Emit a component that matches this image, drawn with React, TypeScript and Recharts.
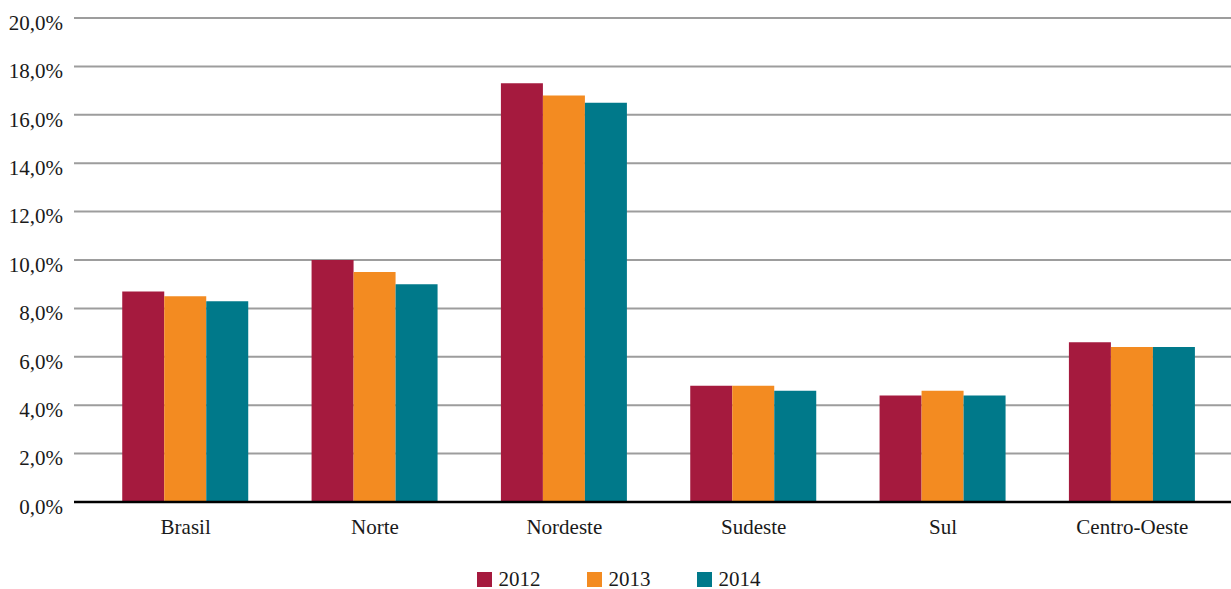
import React from "react";
import { BarChart, Bar, XAxis, YAxis, CartesianGrid, Legend } from "recharts";

// Regions on the category axis
const regions = ["Brasil", "Norte", "Nordeste", "Sudeste", "Sul", "Centro-Oeste"];

// Rates (%) per year
const values2012 = [8.7, 10.0, 17.3, 4.8, 4.4, 6.6];
const values2013 = [8.5, 9.5, 16.8, 4.8, 4.6, 6.4];
const values2014 = [8.3, 9.0, 16.5, 4.6, 4.4, 6.4];

const years = ["2012", "2013", "2014"];
const yearColors = ["#A51A3E", "#F38B21", "#00798A"];
const yTicks = [0, 2, 4, 6, 8, 10, 12, 14, 16, 18, 20];

const rows = regions.map((region, i) => ({
  region,
  "2012": values2012[i],
  "2013": values2013[i],
  "2014": values2014[i],
}));

const FONT = "'Liberation Serif', 'Times New Roman', serif";
const TEXT_COLOR = "#1a1a1a";

const formatPct = (v: number) => v.toFixed(1).replace(".", ",") + "%";

const YTick = (props: any) => {
  const { x, y, payload } = props;
  return (
    <text x={x} y={y + 11.7} textAnchor="end" fontFamily={FONT} fontSize={21} fill={TEXT_COLOR}>
      {formatPct(payload.value)}
    </text>
  );
};

const XTick = (props: any) => {
  const { x, y, payload } = props;
  return (
    <text x={x} y={y + 32} textAnchor="middle" fontFamily={FONT} fontSize={21} fill={TEXT_COLOR}>
      {payload.value}
    </text>
  );
};

const LegendContent = (props: any) => {
  const items = props.payload || [];
  return (
    <div
      style={{
        height: 30,
        paddingTop: 13,
        paddingLeft: 6,
        boxSizing: "border-box",
        display: "flex",
        justifyContent: "center",
        fontFamily: FONT,
        fontSize: 21,
        color: TEXT_COLOR,
      }}
    >
      {items.map((item: any, i: number) => (
        <div
          key={item.value}
          style={{
            display: "flex",
            alignItems: "flex-start",
            height: 15,
            marginRight: i < items.length - 1 ? 46 : 0,
          }}
        >
          <div style={{ width: 15, height: 15, background: item.color, marginRight: 7 }} />
          <span
            style={{
              display: "inline-block",
              height: 15,
              lineHeight: "15px",
              whiteSpace: "nowrap",
            }}
          >
            {item.value}
          </span>
        </div>
      ))}
    </div>
  );
};

export default function App() {
  return (
    <div style={{ position: "absolute", left: 0, top: 0, width: 1231, height: 589, background: "#fff" }}>
      <BarChart
        width={1231}
        height={589}
        data={rows}
        margin={{ top: 18, right: 0, bottom: 0, left: 0 }}
        barCategoryGap="16.5%"
        barGap={0}
      >
        <CartesianGrid vertical={false} stroke="#9d9d9d" strokeWidth={2} />
        <XAxis
          dataKey="region"
          height={57}
          padding={{ left: 17, right: 4 }}
          axisLine={{ stroke: "#000", strokeWidth: 2.5 }}
          tickLine={false}
          tickSize={0}
          tickMargin={0}
          tick={<XTick />}
          interval={0}
        />
        <YAxis
          width={74}
          domain={[0, 20]}
          ticks={yTicks}
          axisLine={false}
          tickLine={false}
          tickSize={0}
          tickMargin={11}
          tick={<YTick />}
          interval={0}
        />
        <Legend verticalAlign="bottom" content={<LegendContent />} />
        {years.map((year, i) => (
          <Bar key={year} dataKey={year} name={year} fill={yearColors[i]} isAnimationActive={false} />
        ))}
      </BarChart>
    </div>
  );
}
